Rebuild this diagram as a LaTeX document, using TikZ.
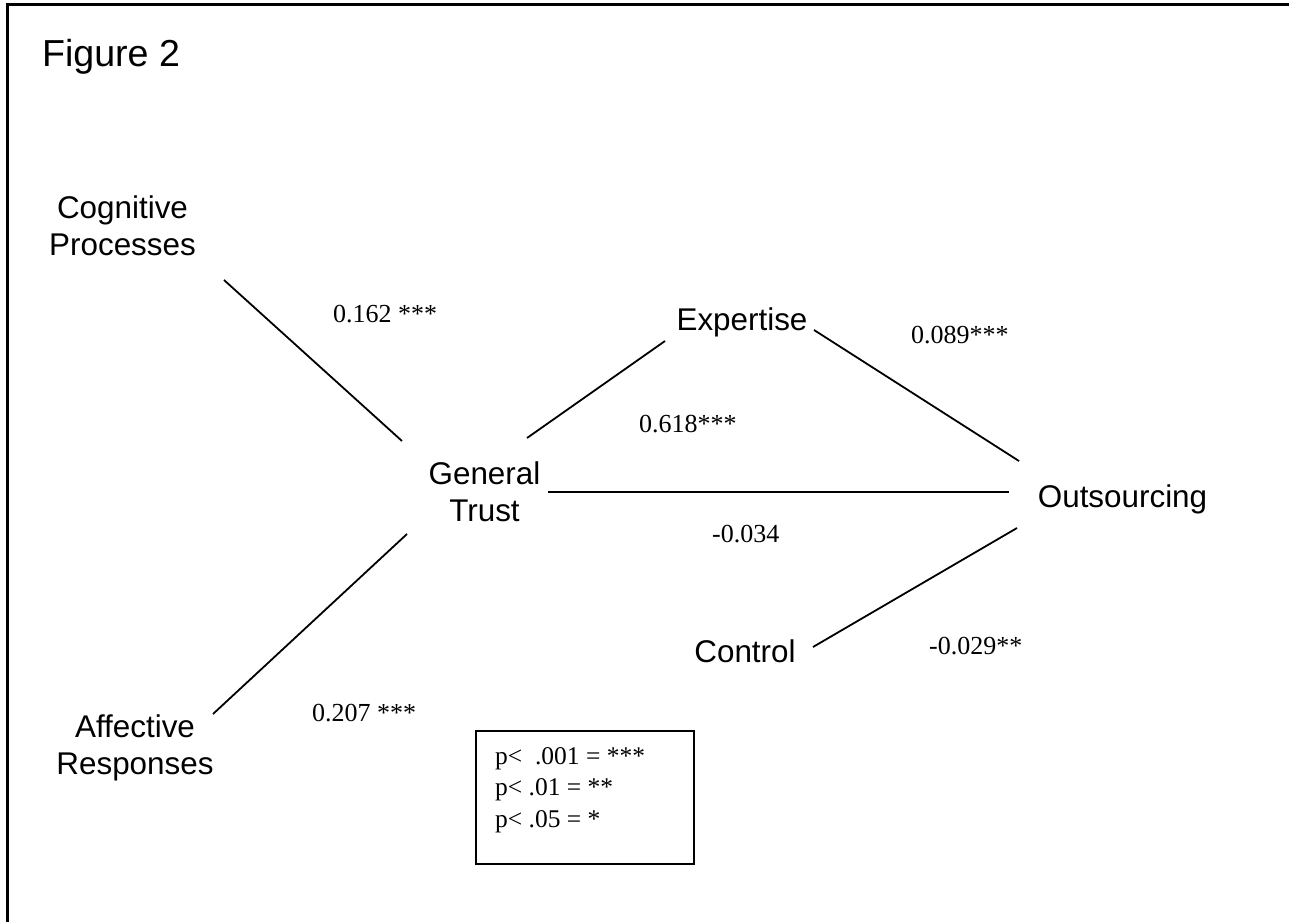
\documentclass[tikz,border=0pt]{standalone}
\usepackage{fontspec}
\setmainfont{Liberation Serif}
\newfontfamily\arialf{Liberation Sans}
\newcommand\legendfontx{\fontsize{25.5}{31.3}\selectfont}
\usetikzlibrary{calc}
\begin{document}
\begin{tikzpicture}[x=1pt,y=-1pt,
  lbl/.style={font=\arialf\fontsize{31.4}{37}\selectfont, inner sep=0pt, align=center},
  coef/.style={font=\fontsize{26}{30}\selectfont, inner sep=0pt, anchor=base west},
  conn/.style={line width=1.8pt},
  frame/.style={line width=3pt}]
\useasboundingbox (0,0) rectangle (1289,921);
\draw[frame] (7.5,940) -- (7.5,4.5) -- (1300,4.5);

\node[font=\arialf\fontsize{37.6}{44}\selectfont, inner sep=0pt, anchor=base] (title) at (111,66) {Figure 2};

% variable labels
\node[lbl] (cog) at (122.5,226) {Cognitive\\Processes};
\node[lbl] (aff) at (135,748.3) {Affective\\Responses};
\node[lbl] (gen) at (484.5,491.5) {General\\Trust};
\node[lbl, anchor=base] (exp) at (742,330) {Expertise};
\node[lbl, anchor=base] (out) at (1122.5,507) {Outsourcing};
\node[lbl, anchor=base] (con) at (745,662) {Control};

% connectors
\draw[conn] ($(cog)+(101.5,54)$) -- ($(gen)+(-82.5,-50.5)$);
\draw[conn] ($(aff)+(78,-34.3)$) -- ($(gen)+(-77.5,42.5)$);
\draw[conn] ($(gen)+(42.5,-53.5)$) -- ($(exp.base)+(-77,11)$);
\draw[conn] ($(exp.base)+(72,0)$) -- ($(out.base)+(-103.5,-46)$);
\draw[conn] ($(gen)+(63.5,0.5)$) -- ($(out.base)+(-113.5,-15)$);
\draw[conn] ($(con.base)+(68,-15)$) -- ($(out.base)+(-105.5,21)$);

% coefficients
\node[coef] (c1) at (333,322) {0.162 ***};
\node[coef] (c2) at (639,432) {0.618***};
\node[coef] (c3) at (911,343) {0.089***};
\node[coef] (c4) at (712,542) {-0.034};
\node[coef] (c5) at (929,654) {-0.029**};
\node[coef] (c6) at (312,721) {0.207 ***};

% legend
\node[draw, line width=1.8pt, inner sep=0pt, minimum width=218, minimum height=133, anchor=north west] (key) at (475,730) {};
\node[font=\legendfontx, inner sep=0pt, align=left, anchor=north west] (keytext) at (495,747.5) {p<\ \ .001 = ***\\p< .01 = **\\p< .05 = *};
\end{tikzpicture}
\end{document}
